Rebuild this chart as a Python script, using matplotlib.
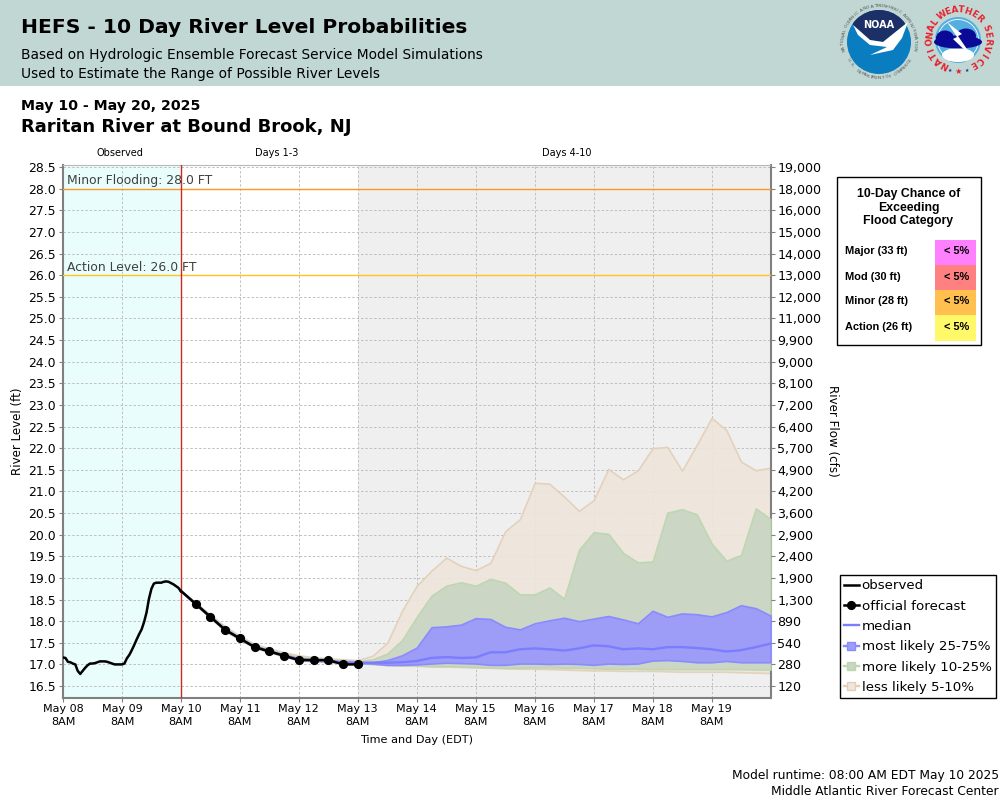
import numpy as np
import matplotlib
matplotlib.use('Agg')
import matplotlib.pyplot as plt
from matplotlib.lines import Line2D
from matplotlib.patches import Rectangle, Circle, Polygon, Ellipse

plt.rcParams['font.family'] = 'DejaVu Sans'

# hourly observed stage, starts May 08 8AM
observed = [17.16, 17.15, 17.06, 17.05, 17.02, 17.0, 16.85, 16.78, 16.85, 16.92, 16.98, 17.02, 17.02,
            17.03, 17.05, 17.07, 17.07, 17.07, 17.06, 17.04, 17.02, 17.0, 17.0, 17.0, 17.0, 17.02, 17.14,
            17.22, 17.33, 17.45, 17.58, 17.7, 17.81, 17.98, 18.2, 18.52, 18.75, 18.87, 18.89, 18.89, 18.89,
            18.91, 18.92, 18.91, 18.88, 18.85, 18.81, 18.77, 18.69]

# 6 hourly forecast, starts May 10 8AM
official = [18.7, 18.4, 18.1, 17.8, 17.6, 17.4, 17.3, 17.2, 17.1, 17.1, 17.1, 17.0, 17.0]
official_marked_from = 1

top5 = [18.7, 18.43, 18.15, 17.88, 17.66, 17.47, 17.37, 17.28, 17.21, 17.17, 17.14, 17.12,
        17.1, 17.2, 17.5, 18.24, 18.82, 19.17, 19.47, 19.28, 19.18, 19.35, 20.08, 20.36, 21.2, 21.18, 20.88,
        20.55, 20.8, 21.52, 21.28, 21.49, 22.0, 22.03, 21.48, 22.08, 22.7, 22.42, 21.69, 21.49, 21.55]
top10 = [18.7, 18.42, 18.13, 17.85, 17.63, 17.44, 17.34, 17.25, 17.17, 17.14, 17.11, 17.09,
         17.07, 17.12, 17.25, 17.56, 18.1, 18.59, 18.82, 18.9, 18.82, 18.98, 18.89, 18.62, 18.62, 18.78, 18.52,
         19.65, 20.06, 20.02, 19.58, 19.36, 19.38, 20.51, 20.59, 20.47, 19.8, 19.4, 19.53, 20.61, 20.36]
q75 = [18.7, 18.41, 18.11, 17.82, 17.61, 17.42, 17.32, 17.22, 17.14, 17.11, 17.09, 17.06,
       17.05, 17.05, 17.1, 17.21, 17.39, 17.86, 17.88, 17.92, 18.07, 18.05, 17.87, 17.81, 17.95, 18.02, 18.08,
       18.0, 18.06, 18.12, 18.04, 17.95, 18.24, 18.1, 18.18, 18.16, 18.11, 18.21, 18.37, 18.3, 18.13]
median = [18.7, 18.4, 18.1, 17.8, 17.6, 17.41, 17.31, 17.21, 17.12, 17.1, 17.08, 17.05,
          17.04, 17.04, 17.04, 17.05, 17.08, 17.15, 17.17, 17.15, 17.16, 17.28, 17.28, 17.35, 17.37, 17.35, 17.32,
          17.37, 17.44, 17.42, 17.35, 17.37, 17.35, 17.4, 17.4, 17.38, 17.35, 17.3, 17.33, 17.4, 17.48]
q25 = [18.7, 18.39, 18.09, 17.79, 17.59, 17.4, 17.3, 17.2, 17.11, 17.09, 17.07, 17.04,
       17.03, 17.02, 16.99, 16.99, 17.0, 17.02, 17.04, 17.03, 17.02, 16.99, 16.99, 17.02, 17.02, 17.01, 17.02,
       17.01, 16.99, 17.02, 17.01, 17.02, 17.09, 17.1, 17.08, 17.05, 17.05, 17.08, 17.05, 17.05, 17.05]
q10 = [18.7, 18.38, 18.08, 17.78, 17.58, 17.39, 17.29, 17.19, 17.1, 17.08, 17.06, 17.03,
       17.03, 17.01, 16.99, 16.98, 16.98, 16.96, 16.96, 16.95, 16.94, 16.93, 16.92, 16.92, 16.93, 16.93, 16.92,
       16.92, 16.91, 16.9, 16.9, 16.9, 16.89, 16.89, 16.89, 16.89, 16.89, 16.89, 16.89, 16.88, 16.88]
q5 = [18.7, 18.37, 18.07, 17.77, 17.57, 17.38, 17.28, 17.18, 17.09, 17.07, 17.05, 17.03,
      17.03, 17.01, 16.98, 16.97, 16.97, 16.95, 16.95, 16.94, 16.93, 16.92, 16.91, 16.9, 16.9, 16.89, 16.88,
      16.87, 16.86, 16.86, 16.85, 16.85, 16.85, 16.84, 16.83, 16.83, 16.83, 16.83, 16.82, 16.81, 16.8]

day_labels = ['May 08', 'May 09', 'May 10', 'May 11', 'May 12', 'May 13', 'May 14', 'May 15', 'May 16', 'May 17', 'May 18', 'May 19']
stage_ticks = [16.5, 17.0, 17.5, 18.0, 18.5, 19.0, 19.5, 20.0, 20.5, 21.0, 21.5, 22.0, 22.5,
               23.0, 23.5, 24.0, 24.5, 25.0, 25.5, 26.0, 26.5, 27.0, 27.5, 28.0, 28.5]
flow_labels = ['120', '280', '540', '890', '1,300', '1,900', '2,400', '2,900', '3,600', '4,200', '4,900', '5,700', '6,400',
               '7,200', '8,100', '9,000', '9,900', '11,000', '12,000', '13,000', '14,000', '15,000', '16,000', '18,000', '19,000']

table_rows = ['Major (33 ft)', 'Mod (30 ft)', 'Minor (28 ft)', 'Action (26 ft)']
table_vals = ['< 5%', '< 5%', '< 5%', '< 5%']
table_cols = ['#ff80ff', '#ff8080', '#ffc050', '#fff868']

TAN, TAN_EDGE = '#eee6db', '#e3cfb8'
GREEN, GREEN_EDGE = '#c8d6c2', '#bcd6ae'
BLUE, BLUE_EDGE = '#9d9df8', '#8a8aff'

fig = plt.figure(figsize=(10, 8), dpi=100)

# page layer in pixel coords for everything outside the plot
page = fig.add_axes([0, 0, 1, 1])
page.set_xlim(0, 1000)
page.set_ylim(800, 0)
page.axis('off')

page.add_patch(Rectangle((0, 0), 1000, 85.5, color='#c1d7d4', lw=0))
page.text(21, 33, 'HEFS - 10 Day River Level Probabilities', fontsize=14.55, fontweight='bold', va='baseline')
page.text(21, 59, 'Based on Hydrologic Ensemble Forecast Service Model Simulations', fontsize=9.95, va='baseline')
page.text(21, 78, 'Used to Estimate the Range of Possible River Levels', fontsize=9.95, va='baseline')
page.text(21, 110, 'May 10 - May 20, 2025', fontsize=10.2, fontweight='bold', va='baseline')
page.text(21, 132, 'Raritan River at Bound Brook, NJ', fontsize=12.95, fontweight='bold', va='baseline')


def ring_text(txt, cx, cy, r, start, step, **kw):
    # letters around a circle, angle clockwise from the top
    for i, ch in enumerate(txt):
        th = np.radians(start + i * step)
        rot = -(start + i * step)
        if step < 0:
            rot += 180
        page.text(cx + r * np.sin(th), cy - r * np.cos(th), ch, rotation=rot, ha='center', va='center',
                  rotation_mode='anchor', **kw)


# NOAA logo
disc = Circle((879, 42), 32, color='#0a7cc0', lw=0)
page.add_patch(disc)
navy = Polygon([(845, 5), (913, 5), (908, 22), (883, 42), (870, 40), (853, 25)], color='#1c2f66', lw=0)
page.add_patch(navy)
navy.set_clip_path(disc)
page.add_patch(Polygon([(853, 25), (870, 40), (883, 42), (908, 22), (902, 38), (893, 50), (870, 55), (887, 47), (870, 45), (858, 35)],
                       color='white', lw=0))
page.text(879, 25, 'NOAA', color='white', fontsize=7, fontweight='bold', ha='center', va='center')
ring_text('NATIONAL OCEANIC AND ATMOSPHERIC ADMINISTRATION', 879, 42, 36, -103, 4.43, fontsize=3.2, color='#555555')
ring_text('U.S. DEPARTMENT OF COMMERCE', 879, 42, 36, 240, -4.6, fontsize=3.2, color='#555555')

# NWS logo
page.add_patch(Circle((958, 40), 23, color='#55aee0', lw=0))
page.add_patch(Circle((958, 40), 20.5, fc='none', ec='white', lw=0.6))
page.add_patch(Ellipse((958, 55), 32, 14, color='white', lw=0))
page.add_patch(Ellipse((958, 42), 48, 13, color='#0a0a96', lw=0))
page.add_patch(Ellipse((945, 38), 18, 15, color='#0a0a96', lw=0))
page.add_patch(Ellipse((966, 36), 20, 15, color='#0a0a96', lw=0))
page.add_patch(Polygon([(947, 22), (962, 34), (958, 36), (973, 58), (953, 39), (957, 37)], color='white', lw=0))
ring_text('NATIONAL', 958.5, 39, 29, -152, 14, fontsize=6.3, color='#e8202c', fontweight='bold')
ring_text('WEATHER', 958.5, 39, 29, -35, 13.5, fontsize=6.3, color='#e8202c', fontweight='bold')
ring_text('SERVICE', 958.5, 39, 29, 68, 13.5, fontsize=6.3, color='#e8202c', fontweight='bold')
page.text(958, 71.5, '★', color='#e8202c', fontsize=6, ha='center', va='center')
page.text(949.5, 70.5, '★', color='#1c2f96', fontsize=3.5, ha='center', va='center')
page.text(966.5, 70.5, '★', color='#1c2f96', fontsize=3.5, ha='center', va='center')

page.text(120, 153.5, 'Observed', fontsize=7, ha='center', va='center')
page.text(276.5, 153.5, 'Days 1-3', fontsize=7, ha='center', va='center')
page.text(567, 153.5, 'Days 4-10', fontsize=7, ha='center', va='center')
page.text(18, 431, 'River Level (ft)', fontsize=8.6, rotation=90, ha='center', va='center')
page.text(832, 431, 'River Flow (cfs)', fontsize=8.6, rotation=-90, ha='center', va='center')
page.text(417, 740, 'Time and Day (EDT)', fontsize=8.1, ha='center', va='center')
page.text(999, 775.5, 'Model runtime: 08:00 AM EDT May 10 2025', fontsize=8.85, ha='right', va='center')
page.text(999, 791.5, 'Middle Atlantic River Forecast Center', fontsize=8.85, ha='right', va='center')

# flood table
page.add_patch(Rectangle((836.5, 177), 144, 168, fc='white', ec='black', lw=1))
page.text(908.5, 194.5, '10-Day Chance of', fontsize=8.8, fontweight='bold', family='Liberation Sans', ha='center', va='center')
page.text(908.5, 208, 'Exceeding', fontsize=8.8, fontweight='bold', family='Liberation Sans', ha='center', va='center')
page.text(908.5, 221, 'Flood Category', fontsize=8.8, fontweight='bold', family='Liberation Sans', ha='center', va='center')
for i in range(4):
    ytop = 240 + i * 25
    page.add_patch(Rectangle((935, ytop), 41, 25.5, color=table_cols[i], lw=0))
    page.text(845, ytop + 11.5, table_rows[i], fontsize=7.9, fontweight='bold', family='Liberation Sans', va='center')
    page.text(969.5, ytop + 11.5, table_vals[i], fontsize=7.9, fontweight='bold', family='Liberation Sans', ha='right', va='center')

# main plot
ax = fig.add_axes([63 / 1000, (800 - 697.5) / 800, 707.5 / 1000, 533 / 800])
ax.set_xlim(0, 288)
ax.set_ylim(16.235, 28.56)

t_obs = np.arange(len(observed))
t_fc = 48 + 6 * np.arange(len(median))
t_off = 48 + 6 * np.arange(len(official))

ax.axvspan(0, 48, color='#e9fdfd', lw=0, zorder=0)
ax.axvspan(120, 288, color='#efefef', lw=0, zorder=0)
ax.set_xticks(np.arange(0, 288, 24))
ax.set_xticklabels([d + '\n8AM' for d in day_labels], fontsize=8, linespacing=1.3)
ax.set_yticks(stage_ticks)
ax.set_yticklabels(['%.1f' % s for s in stage_ticks], fontsize=8.9)
ax.grid(True, color='#c0c0c0', ls=(0, (2.5, 2)), lw=0.7, zorder=1)
ax.set_axisbelow(True)
ax.tick_params(axis='both', length=3, width=0.8, color='#808080', pad=2)

ax.fill_between(t_fc, q5, top5, facecolor=TAN, edgecolor=TAN_EDGE, lw=1.2, alpha=0.9, zorder=2)
ax.fill_between(t_fc, q10, top10, facecolor=GREEN, edgecolor=GREEN_EDGE, lw=1.2, alpha=0.9, zorder=3)
ax.fill_between(t_fc, q25, q75, facecolor=BLUE, edgecolor=BLUE_EDGE, lw=1.2, zorder=4)
ax.plot(t_fc, median, color='#7c7cff', lw=1.7, zorder=5)

ax.axhline(28, color='#ff9522', lw=1, zorder=6)
ax.axhline(26, color='#ffc41f', lw=1, zorder=6)
ax.axvline(48, color='#cc2a20', lw=1, zorder=6)
ax.text(1.6, 28.03, 'Minor Flooding: 28.0 FT', fontsize=8.9, color='#404040', va='bottom', zorder=7)
ax.text(1.6, 26.03, 'Action Level: 26.0 FT', fontsize=8.9, color='#404040', va='bottom', zorder=7)

ax.plot(t_obs, observed, color='black', lw=1.8, zorder=8)
ax.plot(t_off, official, color='black', lw=1.8, marker='o', ms=5.6, markevery=(official_marked_from, 1), zorder=8)

for side in ['left', 'right', 'bottom']:
    ax.spines[side].set_color('#808080')
    ax.spines[side].set_linewidth(1.5)
ax.spines['top'].set_color('#b8b8b8')

ax2 = ax.twinx()
ax2.set_ylim(ax.get_ylim())
ax2.set_yticks(stage_ticks)
ax2.set_yticklabels(flow_labels, fontsize=9.1)
ax2.tick_params(axis='y', length=3, width=0.8, color='#808080', pad=2)
for sp in ax2.spines.values():
    sp.set_visible(False)

handles = [
    Line2D([], [], color='black', lw=1.8),
    Line2D([], [], color='black', lw=1.8, marker='o', ms=5.6),
    Line2D([], [], color='#7c7cff', lw=1.7),
    Line2D([], [], color=BLUE_EDGE, lw=1.7, marker='s', ms=5.6, mfc=BLUE, mec=BLUE_EDGE),
    Line2D([], [], color=GREEN_EDGE, lw=1.7, marker='s', ms=5.6, mfc=GREEN, mec=GREEN_EDGE),
    Line2D([], [], color=TAN_EDGE, lw=1.7, marker='s', ms=5.6, mfc=TAN, mec=TAN_EDGE),
]
names = ['observed', 'official forecast', 'median', 'most likely 25-75%', 'more likely 10-25%', 'less likely 5-10%']
leg = page.legend(handles, names, loc='upper left', bbox_to_anchor=(839.5 / 1000, 1 - 575.3 / 800), bbox_transform=fig.transFigure,
                  fontsize=9.65, frameon=True, fancybox=False, framealpha=1, edgecolor='black', borderpad=0.3,
                  labelspacing=0.55, handlelength=1.15, handletextpad=0.2, borderaxespad=0)
leg.get_frame().set_linewidth(1)

fig.savefig('out.png', dpi=100)
